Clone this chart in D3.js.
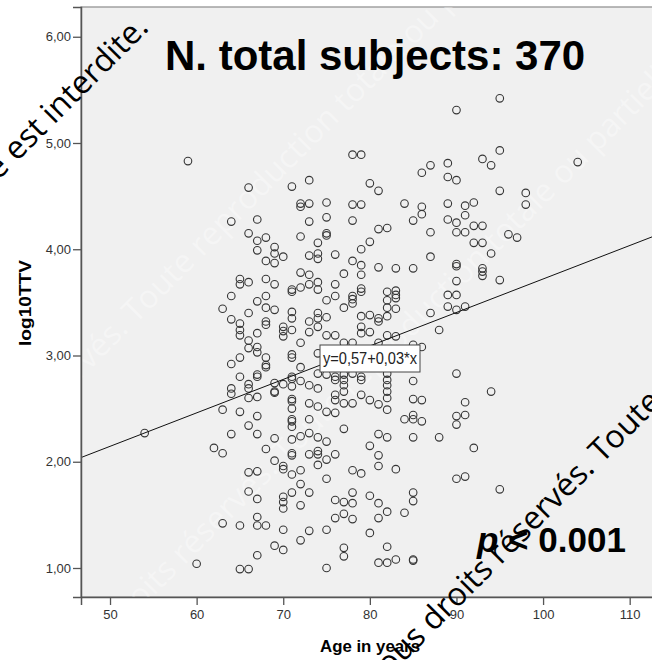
<!DOCTYPE html>
<html>
<head>
<meta charset="utf-8">
<script src="https://cdn.jsdelivr.net/npm/d3@7"></script>
<style>
  body { margin: 0; background: #fff; }
  svg { display: block; font-family: 'Liberation Sans', Arial, sans-serif; }
</style>
</head>
<body>
<div id="chart"></div>
<script>
// ages (years) and the log10TTV values read for each age column
const ages = [54, 59, 60, 62, 63, 64, 65, 66, 67, 68, 69, 70, 71, 72, 73, 74, 75, 76, 77, 78, 79,
  80, 81, 82, 83, 84, 85, 86, 87, 88, 89, 90, 91, 92, 93, 94, 95, 96, 97, 98, 104];
const log10TTV = [
  [2.27],
  [4.83],
  [1.04],
  [2.13],
  [3.44, 2.49, 2.08, 1.42],
  [4.26, 3.56, 3.34, 2.92, 2.69, 2.64, 2.26],
  [3.72, 3.67, 3.30, 3.24, 3.19, 2.98, 2.80, 2.47, 1.40, 0.99],
  [4.58, 4.15, 3.69, 3.40, 3.14, 3.07, 2.73, 2.69, 2.60, 2.34, 1.90, 1.72, 0.99],
  [4.28, 4.08, 3.99, 3.51, 3.21, 3.08, 3.03, 2.82, 2.80, 2.61, 2.43, 2.26, 1.91, 1.65, 1.48, 1.40, 1.12],
  [4.11, 3.89, 3.72, 3.56, 3.45, 3.32, 3.29, 2.98, 2.91, 2.89, 2.12, 1.40],
  [4.02, 3.96, 3.87, 3.67, 3.43, 2.74, 2.66, 2.65, 2.22, 2.01, 1.21],
  [3.93, 3.27, 3.23, 3.18, 2.73, 1.96, 1.93, 1.67, 1.62, 1.56, 1.36, 1.17],
  [4.59, 3.62, 3.60, 3.41, 3.35, 3.24, 3.01, 2.98, 2.80, 2.78, 2.71, 2.59, 2.57, 2.50, 2.40, 2.38, 2.33, 2.21, 2.08, 2.06, 1.88, 1.71],
  [4.43, 4.40, 4.12, 3.78, 3.64, 3.12, 2.89, 2.76, 2.24, 1.92, 1.79, 1.59, 1.26],
  [4.65, 4.43, 4.26, 3.94, 3.76, 3.67, 3.32, 3.22, 2.72, 2.55, 2.40, 2.27, 2.07, 1.71, 1.35],
  [4.06, 3.96, 3.91, 3.69, 3.62, 3.40, 3.35, 3.27, 3.02, 2.83, 2.69, 2.52, 2.23, 2.10, 2.07, 1.97],
  [4.44, 4.30, 4.15, 4.13, 3.52, 3.36, 3.19, 2.82, 2.47, 2.19, 2.02, 1.84, 1.36, 1.00],
  [3.95, 3.67, 3.56, 3.19, 2.80, 2.77, 2.63, 2.58, 2.46, 2.07, 1.64, 1.47],
  [3.77, 3.45, 3.12, 2.82, 2.77, 2.72, 2.66, 2.55, 2.31, 1.62, 1.51, 1.19, 1.11],
  [4.89, 4.42, 4.27, 3.89, 3.56, 3.53, 3.49, 3.12, 2.83, 2.55, 1.92, 1.71, 1.61, 1.46],
  [4.89, 4.42, 4.00, 3.85, 3.76, 3.63, 3.60, 3.37, 3.27, 3.21, 2.80, 2.77, 2.63, 1.89],
  [4.62, 4.07, 3.38, 3.22, 2.58, 2.15, 1.68, 1.33],
  [4.55, 4.19, 3.83, 3.35, 3.32, 3.12, 2.54, 2.26, 2.06, 1.96, 1.61, 1.47, 1.05],
  [4.20, 3.60, 3.52, 3.45, 3.37, 3.19, 2.83, 2.77, 2.72, 2.66, 2.60, 2.49, 2.23, 1.53, 1.20, 1.05],
  [3.82, 3.61, 3.57, 3.54, 3.44, 3.18, 1.93, 1.08],
  [4.43, 2.40, 1.52],
  [4.27, 3.82, 3.10, 2.76, 2.59, 2.44, 2.40, 2.23, 1.71, 1.63, 1.08, 1.07],
  [4.72, 4.40, 4.33, 3.08, 2.58, 2.38],
  [4.79, 4.16, 3.93, 3.40],
  [3.24, 2.23],
  [4.81, 4.68, 4.43, 4.28, 3.57, 3.46],
  [5.31, 4.65, 4.25, 4.16, 3.86, 3.84, 3.70, 3.57, 3.43, 2.83, 2.43, 2.35, 1.84],
  [4.41, 4.32, 4.16, 3.46, 2.56, 2.44, 1.86],
  [4.44, 4.22, 4.06, 2.13],
  [4.85, 4.22, 4.06, 3.82, 3.79, 3.75],
  [4.79, 3.96, 2.66],
  [5.42, 4.93, 4.55, 3.71, 1.74],
  [4.14],
  [4.11],
  [4.53, 4.42],
  [4.82]
];
const xTicks = [50, 60, 70, 80, 90, 100, 110];
const yTicks = [1, 2, 3, 4, 5, 6];
const fitIntercept = 0.57;
const fitSlope = 0.0315;
const fitLabel = 'y=0,57+0,03*x';
const title = 'N. total subjects: 370';
const xTitle = 'Age in years';
const yTitle = 'log10TTV';
const watermark = 'Toute reproduction totale ou partielle est interdite.';

const width = 652, height = 660;
const plot = { left: 81, top: 7, right: 660, bottom: 597 };

const points = [];
ages.forEach((a, i) => log10TTV[i].forEach(v => points.push({ age: a, v: v })));

const x = d3.scaleLinear().domain([46.65, 113.5]).range([plot.left, plot.right]);
const y = d3.scaleLinear().domain([0.727, 6.28]).range([plot.bottom, plot.top]);

const svg = d3.select('#chart').append('svg')
  .attr('width', width)
  .attr('height', height);

svg.append('defs').append('clipPath').attr('id', 'plotclip')
  .append('rect')
  .attr('x', plot.left).attr('y', plot.top)
  .attr('width', plot.right - plot.left).attr('height', plot.bottom - plot.top);

// plot background + frame
svg.append('rect')
  .attr('x', plot.left).attr('y', plot.top)
  .attr('width', plot.right - plot.left).attr('height', plot.bottom - plot.top)
  .attr('fill', '#f0f0f0')
  .attr('stroke', '#8c8c8c')
  .attr('stroke-width', 1.2);

// faint white watermark lines inside the plot
const faint = svg.append('g').attr('clip-path', 'url(#plotclip)');
[[250, 210], [400, 350]].forEach(([px, py]) => {
  faint.append('text')
    .attr('transform', `translate(${px},${py}) rotate(-45)`)
    .attr('text-anchor', 'middle')
    .attr('font-family', "'Open Sans', 'Noto Sans', sans-serif")
    .attr('font-size', 32)
    .attr('fill', '#fff')
    .attr('fill-opacity', 0.35)
    .text('droits réservés. Toute reproduction totale ou partielle');
});

// scatter points
svg.append('g')
  .attr('clip-path', 'url(#plotclip)')
  .selectAll('circle')
  .data(points)
  .enter()
  .append('circle')
  .attr('cx', d => x(d.age))
  .attr('cy', d => y(d.v))
  .attr('r', 3.8)
  .attr('fill', 'none')
  .attr('stroke', '#363636')
  .attr('stroke-width', 1.1);

// fit line
const xd = x.domain();
svg.append('line')
  .attr('clip-path', 'url(#plotclip)')
  .attr('x1', x(xd[0])).attr('y1', y(fitIntercept + fitSlope * xd[0]))
  .attr('x2', x(xd[1])).attr('y2', y(fitIntercept + fitSlope * xd[1]))
  .attr('stroke', '#111')
  .attr('stroke-width', 1);

// fit label box
const bx = 320, by = 345;
svg.append('rect')
  .attr('x', bx).attr('y', by).attr('width', 100).attr('height', 27)
  .attr('fill', '#fff').attr('stroke', '#444').attr('stroke-width', 1);
svg.append('text')
  .attr('x', bx + 3).attr('y', by + 19)
  .attr('font-size', 16)
  .attr('textLength', 94)
  .attr('lengthAdjust', 'spacingAndGlyphs')
  .attr('fill', '#222')
  .text(fitLabel);

// axes
const fmt = d => d3.format('.2f')(d).replace('.', ',');
const yAxis = svg.append('g')
  .attr('transform', `translate(${plot.left},0)`)
  .call(d3.axisLeft(y).tickValues(yTicks).tickFormat(fmt).tickSize(8).tickPadding(2));
const xAxis = svg.append('g')
  .attr('transform', `translate(0,${plot.bottom})`)
  .call(d3.axisBottom(x).tickValues(xTicks).tickSize(8).tickPadding(5));
[xAxis, yAxis].forEach(g => {
  g.select('.domain').attr('stroke', '#555').attr('stroke-width', 1.5);
  g.selectAll('.tick line').attr('stroke', '#555').attr('stroke-width', 1.3);
  g.selectAll('.tick text')
    .attr('font-family', "'Liberation Sans', Arial, sans-serif")
    .attr('font-size', 13)
    .attr('fill', '#333');
});

// axis titles
svg.append('text')
  .attr('x', 370).attr('y', 652)
  .attr('text-anchor', 'middle')
  .attr('font-size', 17).attr('font-weight', 'bold')
  .attr('textLength', 100).attr('lengthAdjust', 'spacingAndGlyphs')
  .text(xTitle);
svg.append('text')
  .attr('transform', 'translate(31,303) rotate(-90)')
  .attr('text-anchor', 'middle')
  .attr('font-size', 17).attr('font-weight', 'bold')
  .attr('textLength', 86).attr('lengthAdjust', 'spacingAndGlyphs')
  .text(yTitle);

// annotations
svg.append('text')
  .attr('x', 165).attr('y', 70)
  .attr('font-size', 42).attr('font-weight', 'bold')
  .attr('fill', '#000')
  .text(title);
const pt = svg.append('text')
  .attr('x', 477).attr('y', 552)
  .attr('font-size', 35).attr('font-weight', 'bold')
  .attr('fill', '#000');
pt.append('tspan').attr('font-style', 'italic').text('p');
pt.append('tspan').text(' < 0.001');

// black watermark fragments
const wm = svg.append('g')
  .attr('font-family', "'Open Sans', 'Noto Sans', sans-serif")
  .attr('font-size', 32)
  .attr('fill', '#000');
wm.append('text')
  .attr('transform', 'translate(150,29) rotate(-45)')
  .attr('text-anchor', 'end')
  .text(watermark);
wm.append('text')
  .attr('transform', 'translate(596,470) rotate(-45)')
  .attr('text-anchor', 'end')
  .text('Tous droits réservés.');
wm.append('text')
  .attr('transform', 'translate(596,470) rotate(-45)')
  .text('\u00a0Toute reproduction');
</script>
</body>
</html>
